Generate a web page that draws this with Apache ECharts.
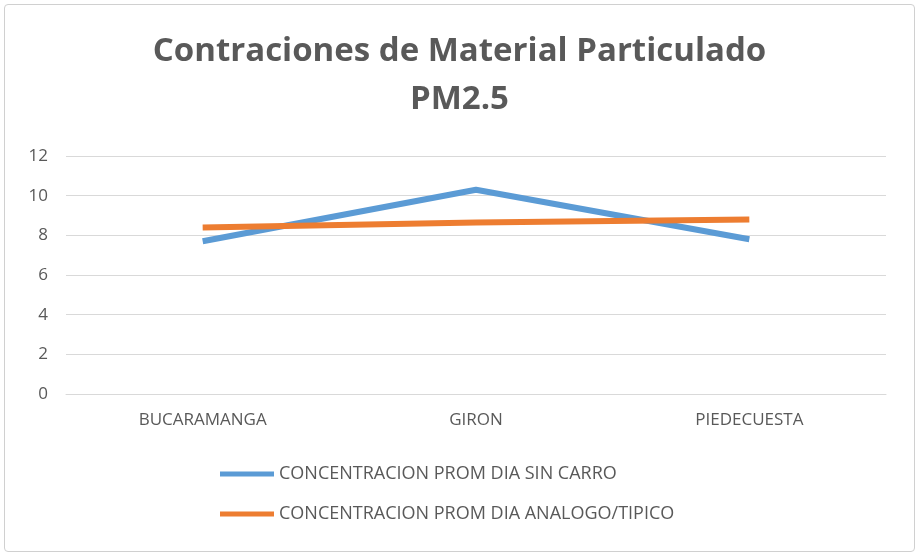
<!DOCTYPE html>
<html>
<head>
<meta charset="utf-8">
<script src="https://cdn.jsdelivr.net/npm/echarts@6/dist/echarts.min.js"></script>
<style>
html,body{margin:0;padding:0;background:#fff}
#chart{position:absolute;left:4px;top:4px;width:911px;height:548px;border:1px solid #d0d0d0;border-radius:4px;box-sizing:border-box}
</style>
</head>
<body>
<div id="chart"></div>
<script>

// categories and values
const cities = ["BUCARAMANGA","GIRON","PIEDECUESTA"]
const sinCarro = [7.7,10.3,7.8]
const tipico = [8.4,8.65,8.8]
const seriesNames = ["CONCENTRACION PROM DIA SIN CARRO","CONCENTRACION PROM DIA ANALOGO/TIPICO"]

const chart = echarts.init(document.getElementById("chart"))

chart.setOption({

animation:false,

title:{
text:"Contraciones de Material Particulado\nPM2.5",
left:"center",
top:18,
textStyle:{
fontFamily:"Open Sans",
fontSize:33,
fontWeight:"bold",
color:"#595959",
lineHeight:48
}
},

legend:{
orient:"vertical",
left:210,
top:455,
itemWidth:54,
itemGap:22,
icon:"rect",
itemHeight:5,
textStyle:{fontFamily:"Open Sans",fontSize:18,color:"#595959"},
data:seriesNames
},

grid:{left:61,right:28,top:151,bottom:157},

xAxis:{
type:"category",
data:cities,
axisLine:{lineStyle:{color:"#d9d9d9"}},
axisTick:{show:false},
axisLabel:{fontFamily:"Open Sans",fontSize:17,color:"#595959",margin:18}
},

yAxis:{
type:"value",
min:0,
max:12,
interval:2,
axisLine:{show:false},
axisTick:{show:false},
splitLine:{lineStyle:{color:"#d9d9d9"}},
axisLabel:{fontFamily:"Open Sans",fontSize:17,color:"#595959",margin:18}
},

series:[
{
name:seriesNames[0],
type:"line",
data:sinCarro,
symbol:"none",
lineStyle:{color:"#5b9bd5",width:6},
itemStyle:{color:"#5b9bd5"}
},
{
name:seriesNames[1],
type:"line",
data:tipico,
symbol:"none",
lineStyle:{color:"#ed7d31",width:6},
itemStyle:{color:"#ed7d31"}
}
]

})

</script>
</body>
</html>
